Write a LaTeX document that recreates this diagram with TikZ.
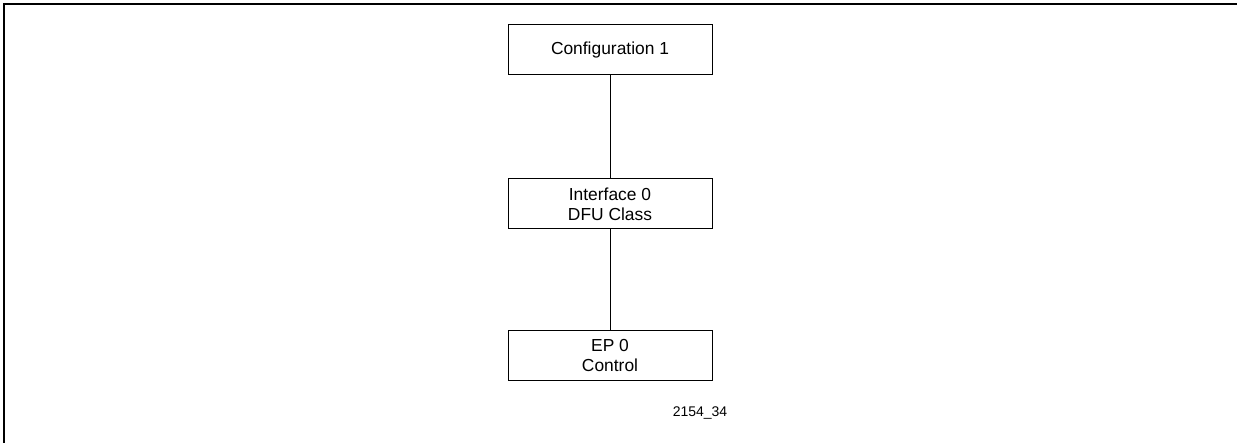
\documentclass[tikz,border=0pt]{standalone}
\usepackage{fontspec}
\setmainfont{Liberation Sans}
\begin{document}
\begin{tikzpicture}[x=1pt,y=-1pt,
  box/.style={draw=black,line width=1pt,minimum width=204pt,minimum height=50pt,inner sep=0pt,align=center,
    font=\fontsize{17.4}{20}\selectfont},
  link/.style={draw=black,line width=1pt},
  frame/.style={draw=black,line width=2.2pt}]
\useasboundingbox (0,0) rectangle (1237,443);
\coordinate (fa) at (4,443);
\coordinate (fb) at (4,4);
\coordinate (fc) at (1237,4);
\draw[frame] (fa) -- (fb) -- (fc);
\node[box] (cfg) at (610,50) {Configuration 1};
\node[box] (intf) at (610,204) {Interface 0\\DFU Class};
\node[box] (ep) at (610,356) {EP 0\\Control};
\draw[link] (cfg) -- (intf);
\draw[link] (intf) -- (ep);
\node[font=\fontsize{14}{16}\selectfont,inner sep=0pt] (lbl) at (700,413) {2154\_34};
\end{tikzpicture}
\end{document}
